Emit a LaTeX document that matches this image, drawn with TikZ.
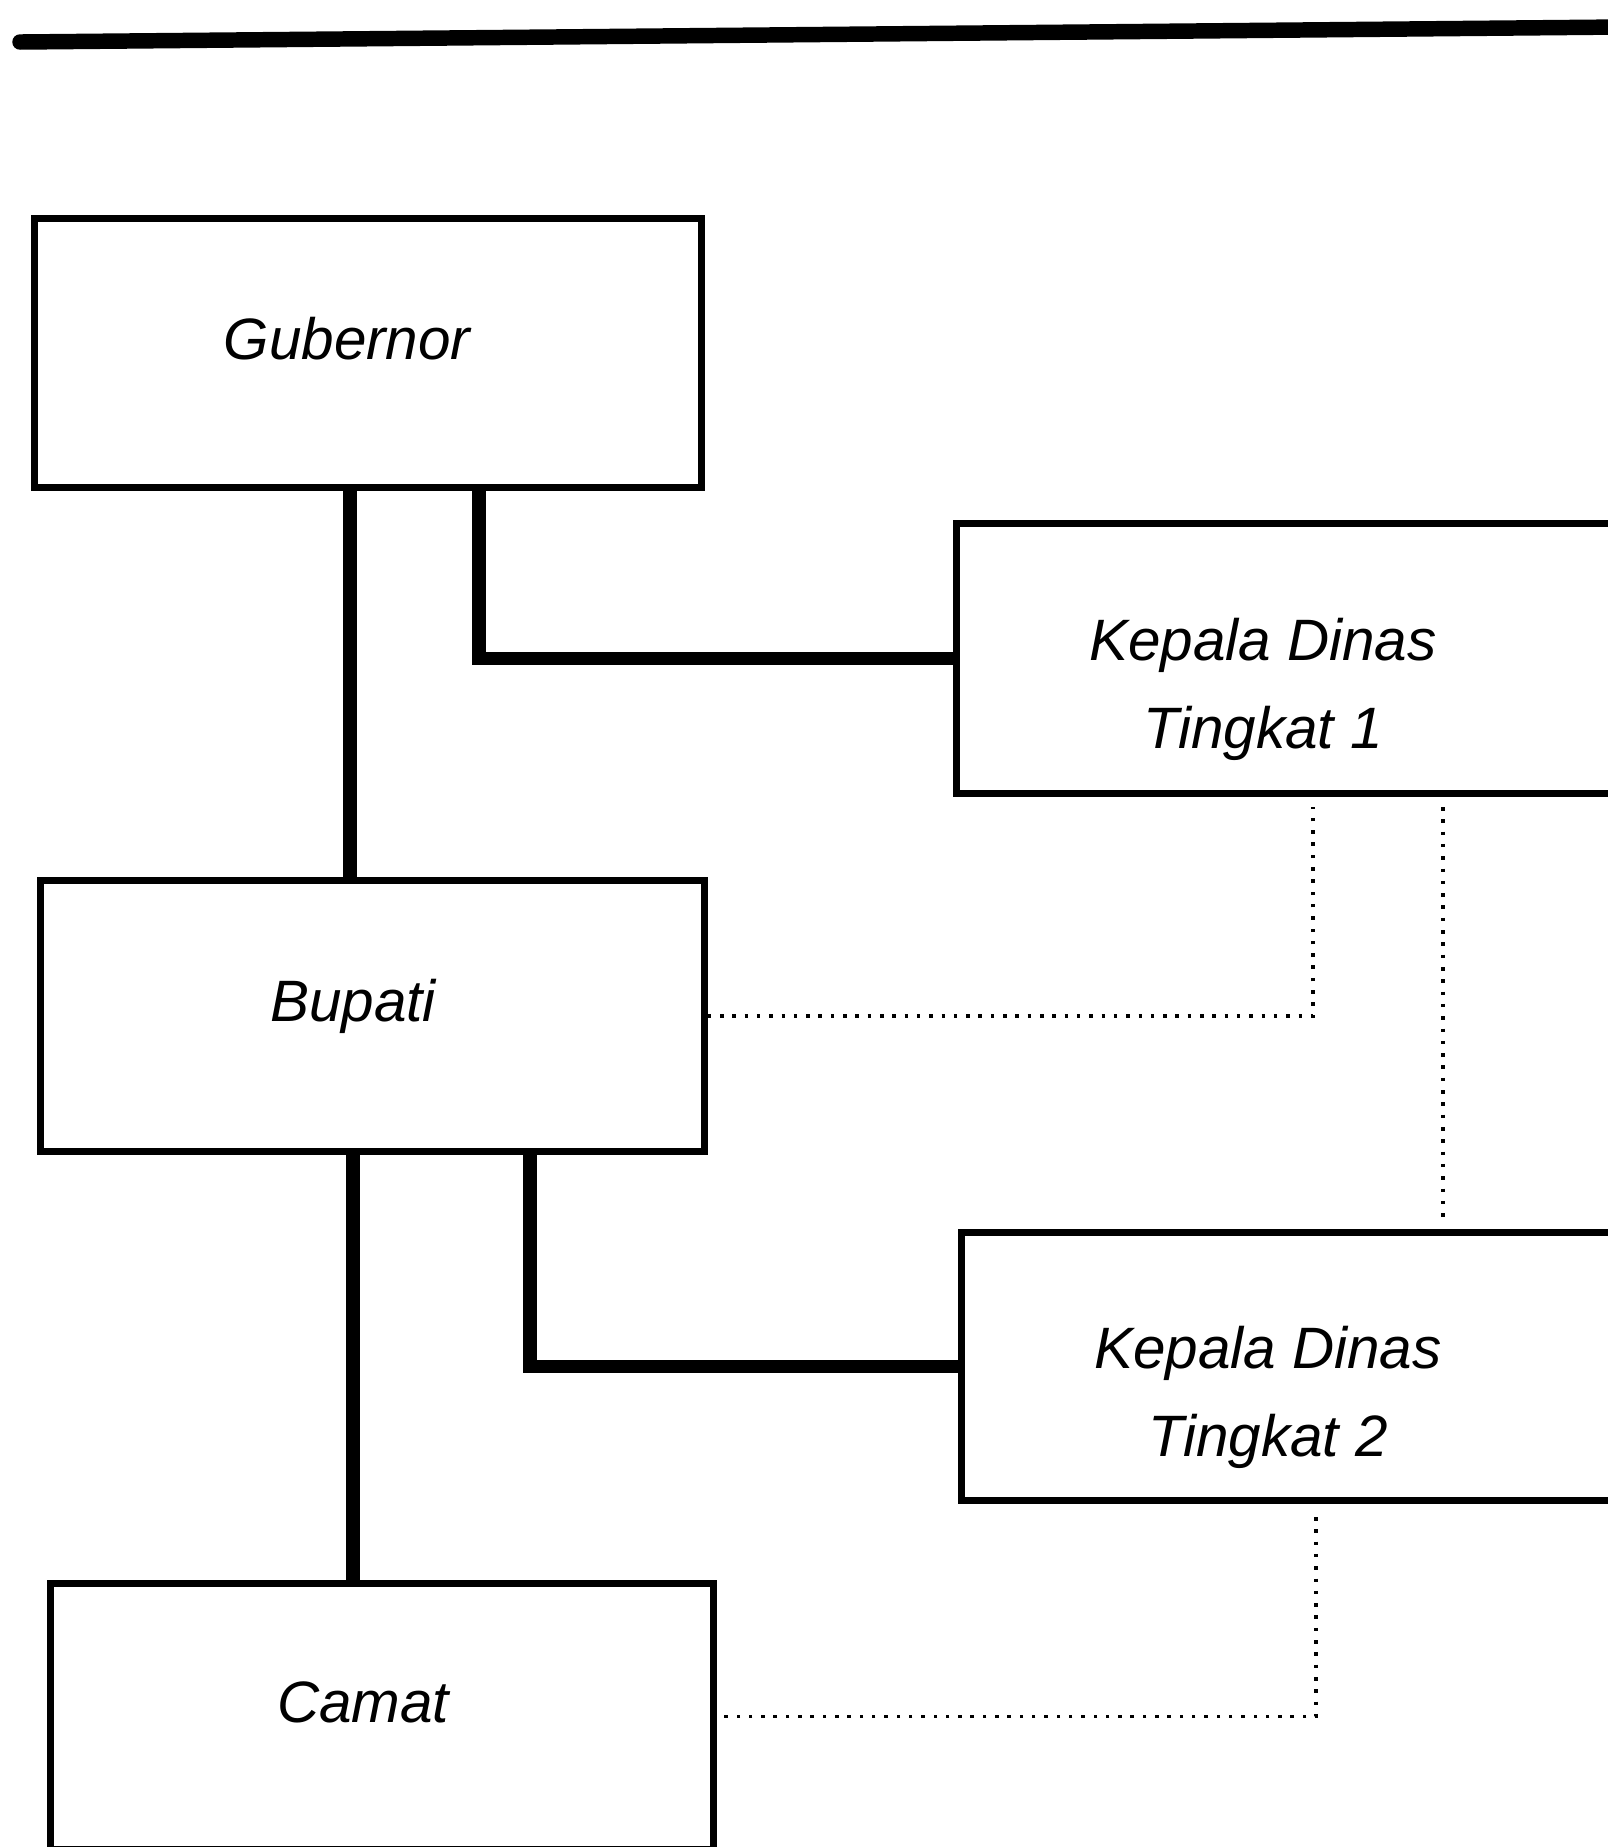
\documentclass[tikz,border=0pt]{standalone}
\usepackage{fontspec}
\setmainfont{Liberation Sans}
\usetikzlibrary{positioning}

\begin{document}
\begin{tikzpicture}[x=0.01cm, y=-0.01cm,
		box/.style={draw, line width=2pt, inner sep=0pt},
		boxtext/.style={font=\fontsize{16.6}{25}\selectfont\itshape, align=center, inner sep=0pt},
		link/.style={line width=3.8pt},
		dotlink/.style={line width=1pt, dash pattern=on 1pt off 2.5pt}]
			\useasboundingbox (0,0) rectangle (1608,1847);
			\clip (0,0) rectangle (1608,1847);
			% rule at the top of the page
			\draw[line width=4.4pt, line cap=round] (20,42) -- (1620,27);
			% Draw the boxes
			\node[box, minimum width=6.66cm, minimum height=2.68cm] (gub) at (368,353) {};
			\node[box, minimum width=7.43cm, minimum height=2.69cm] (kd1) at (1328.5,658.5) {};
			\node[box, minimum width=6.63cm, minimum height=2.70cm] (bup) at (372.5,1016) {};
			\node[box, minimum width=7.38cm, minimum height=2.67cm] (kd2) at (1331,1366.5) {};
			\node[box, minimum width=6.62cm, minimum height=2.65cm] (cam) at (382,1716.5) {};
			% the names in the boxes
			\node[boxtext, anchor=base] (gub-t) at (347,359) {Gubernor};
			\node[boxtext] (kd1-t) at (1263,689) {Kepala Dinas\\Tingkat 1};
			\node[boxtext, anchor=base] (bup-t) at (353,1021) {Bupati};
			\node[boxtext] (kd2-t) at (1268,1397) {Kepala Dinas\\Tingkat 2};
			\node[boxtext, anchor=base] (cam-t) at (363,1722) {Camat};
			% solid lines of command
			\draw[link] ([xshift=-0.18cm]gub.south) -- ([xshift=-0.18cm]gub.south |- bup.north);
			\draw[link] ([xshift=1.11cm]gub.south) |- (kd1.west);
			\draw[link] ([xshift=-0.195cm]bup.south) -- ([xshift=-0.195cm]bup.south |- cam.north);
			\draw[link] ([xshift=1.575cm]bup.south) |- (kd2.west);
			% dotted lines
			\coordinate (kd1-a) at (1313,807);
			\coordinate (kd1-b) at (1443,807);
			\coordinate (kd2-a) at (1443,1219);
			\coordinate (kd2-b) at (1316,1517);
			\draw[dotlink] (bup.east) -| (kd1-a);
			\draw[dotlink] (kd1-b) -- (kd2-a);
			\draw[dotlink] (kd2-b) |- (cam.east);
		\end{tikzpicture}
\end{document}
